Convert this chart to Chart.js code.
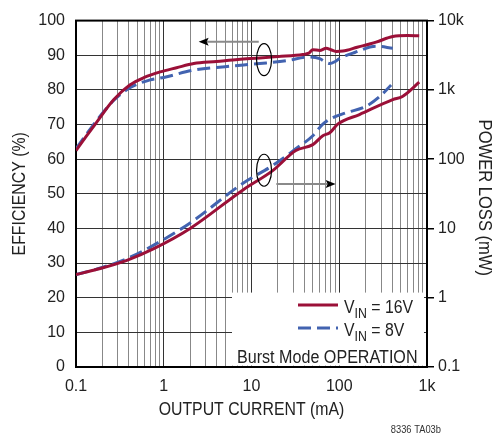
<!DOCTYPE html>
<html>
<head>
<meta charset="utf-8">
<script src="https://cdn.jsdelivr.net/npm/chart.js@4.4.1/dist/chart.umd.min.js"></script>
<style>
  html, body { margin: 0; padding: 0; background: #fff; }
  #wrap { width: 493px; height: 438px; }
</style>
</head>
<body>
<div id="wrap"><canvas id="effChart" width="493" height="438"></canvas></div>
<script>
// Efficiency (%) vs output current (mA)
const eff16Current = [0.1, 0.13, 0.17, 0.27, 0.41, 0.6, 0.91, 1.4, 2.2, 4, 7, 12.4, 20, 38.5, 45, 50, 60, 71, 80, 92, 110, 160, 263, 407, 600, 815];
const eff16Value   = [62.5, 66.5, 70.5, 77.2, 81.4, 83.6, 85.2, 86.4, 87.6, 88.2, 88.8, 89.2, 89.6, 90.2, 90.6, 91.6, 91.4, 92, 91.6, 91.1, 91.2, 92.3, 93.8, 95.4, 95.7, 95.6];
const eff8Current  = [0.1, 0.13, 0.17, 0.27, 0.41, 0.7, 1.0, 2.2, 5, 12.4, 25, 46, 60, 70, 78, 90, 100, 150, 263, 407];
const eff8Value    = [63, 67, 71, 77, 80.6, 82.9, 83.6, 85.7, 86.7, 87.6, 88.4, 89.5, 89, 88, 87.6, 88.2, 89, 90.8, 92.6, 92];

// Power loss (mW) vs output current (mA)
const loss16Current = [0.1, 0.174, 0.38, 0.76, 2.0, 8.0, 17.6, 32, 50, 65, 78, 96, 170, 407, 525, 815];
const loss16Value   = [2.16, 2.57, 3.47, 5.07, 10, 36, 69, 133, 162, 218, 240, 320, 441, 724, 804, 1290];
const loss8Current  = [0.1, 0.174, 0.38, 0.76, 2.0, 8.0, 17.6, 32, 50, 65, 85, 120, 204, 290, 390];
const loss8Value    = [2.16, 2.6, 3.67, 5.7, 12, 45, 81.6, 141, 218, 320, 398, 468, 582, 804, 1175];

const xTickValues = [0.1, 1, 10, 100, 1000];
const xTickLabels = ['0.1', '1', '10', '100', '1k'];
const lossTickValues = [0.1, 1, 10, 100, 1000, 10000];
const lossTickLabels = ['0.1', '1', '10', '100', '1k', '10k'];
const vinLabels = ['16V', '8V'];
const modeNote = 'Burst Mode OPERATION';
const figureTag = '8336 TA03b';
const xTitle = 'OUTPUT CURRENT (mA)';
const effTitle = 'EFFICIENCY (%)';
const lossTitle = 'POWER LOSS (mW)';

const RED = '#9b1038';
const BLUE = '#4263b0';
const TEXT = '#222';
const FONT = "'Liberation Sans', Arial, sans-serif";
const SQUEEZE = 0.88; // condensed look for titles and legend text

const pts = (xs, ys) => xs.map((x, i) => ({ x: x, y: ys[i] }));
const isDecade = v => Math.abs(Math.log10(v) - Math.round(Math.log10(v))) < 1e-6;

// horizontally squeezed text, optionally rotated around its anchor
function narrowText(ctx, text, x, y, opts) {
    const o = Object.assign({ size: 18, align: 'left', base: 'alphabetic', rot: 0, k: SQUEEZE }, opts);
    ctx.save();
    ctx.translate(x, y);
    ctx.rotate(o.rot);
    ctx.scale(o.k, 1);
    ctx.font = o.size + 'px ' + FONT;
    ctx.textAlign = o.align;
    ctx.textBaseline = o.base;
    ctx.fillText(text, 0, 0);
    const w = ctx.measureText(text).width * o.k;
    ctx.restore();
    return w;
}

function drawVin(ctx, x, y, val) {
    let w = narrowText(ctx, 'V', x, y, { size: 18 });
    w += narrowText(ctx, 'IN', x + w, y + 5, { size: 14 });
    narrowText(ctx, ' = ' + val, x + w, y, { size: 18 });
}

function arrow(ctx, x0, x1, y) {
    const dir = Math.sign(x1 - x0);
    ctx.strokeStyle = '#8a8a8a';
    ctx.lineWidth = 2;
    ctx.beginPath();
    ctx.moveTo(x0, y);
    ctx.lineTo(x1 - dir * 8, y);
    ctx.stroke();
    ctx.fillStyle = '#000';
    ctx.beginPath();
    ctx.moveTo(x1, y);
    ctx.lineTo(x1 - dir * 10, y - 4);
    ctx.lineTo(x1 - dir * 8, y);
    ctx.lineTo(x1 - dir * 10, y + 4);
    ctx.closePath();
    ctx.fill();
}

const overlay = {
    id: 'overlay',
    beforeDatasetsDraw(chart) {
        const { ctx, chartArea: a } = chart;
        ctx.save();
        // white panel for the legend, covering the grid
        ctx.fillStyle = '#fff';
        ctx.fillRect(a.left + 156, a.top + 272, a.right - 3 - (a.left + 156), 73);
        // plot frame
        ctx.strokeStyle = '#000';
        ctx.lineWidth = 2;
        ctx.strokeRect(a.left, a.top, a.right - a.left, a.bottom - a.top);
        ctx.restore();
    },
    afterDatasetsDraw(chart) {
        const { ctx, chartArea: a, scales } = chart;
        const x = scales.x, y = scales.y;
        const midY = (a.top + a.bottom) / 2;
        ctx.save();
        ctx.fillStyle = TEXT;

        // axis titles
        narrowText(ctx, xTitle, (a.left + a.right) / 2, a.bottom + 43, { align: 'center', base: 'middle' });
        narrowText(ctx, effTitle, 20, midY, { align: 'center', base: 'middle', rot: -Math.PI / 2 });
        narrowText(ctx, lossTitle, 484, midY + 4, { align: 'center', base: 'middle', rot: Math.PI / 2, k: 0.92 });

        // legend rows
        const rows = [a.top + 284.5, a.top + 307.5];
        const colors = [RED, BLUE];
        rows.forEach((ry, i) => {
            ctx.strokeStyle = colors[i];
            ctx.lineWidth = 3;
            ctx.setLineDash(i === 1 ? [13, 6] : []);
            ctx.beginPath();
            ctx.moveTo(a.left + 222, ry);
            ctx.lineTo(a.left + 262, ry);
            ctx.stroke();
            ctx.setLineDash([]);
            drawVin(ctx, a.left + 268, ry + 7.5, vinLabels[i]);
        });
        narrowText(ctx, modeNote, a.left + 161, a.top + 342, { k: 0.895 });

        // ellipses grouping each pair of curves
        ctx.strokeStyle = '#000';
        ctx.lineWidth = 1.2;
        [88.75, 56.8].forEach(v => {
            ctx.beginPath();
            ctx.ellipse(x.getPixelForValue(13.9), y.getPixelForValue(v), 7.5, 16, 0, 0, Math.PI * 2);
            ctx.stroke();
        });

        // arrows pointing to the matching axis
        arrow(ctx, x.getPixelForValue(12.1), x.getPixelForValue(2.5), y.getPixelForValue(93.9));
        arrow(ctx, x.getPixelForValue(19.2), x.getPixelForValue(91), y.getPixelForValue(52.8));

        // figure tag
        ctx.fillStyle = '#333';
        narrowText(ctx, figureTag, 441, 433, { size: 11, align: 'right', k: 0.85 });
        ctx.restore();
    }
};

const lineStyle = (color, dashed) => ({
    borderColor: color,
    backgroundColor: color,
    borderWidth: 3,
    borderDash: dashed ? [13, 6] : [],
    pointRadius: 0,
    cubicInterpolationMode: 'monotone',
    fill: false,
});

new Chart(document.getElementById('effChart'), {
    type: 'line',
    data: {
        datasets: [
            { label: 'VIN = 16V', data: pts(eff16Current, eff16Value), yAxisID: 'y', ...lineStyle(RED, false) },
            { label: 'VIN = 8V', data: pts(eff8Current, eff8Value), yAxisID: 'y', ...lineStyle(BLUE, true) },
            { label: 'VIN = 16V loss', data: pts(loss16Current, loss16Value), yAxisID: 'y2', ...lineStyle(RED, false) },
            { label: 'VIN = 8V loss', data: pts(loss8Current, loss8Value), yAxisID: 'y2', ...lineStyle(BLUE, true) },
        ]
    },
    options: {
        responsive: false,
        animation: false,
        devicePixelRatio: 1,
        layout: { padding: { top: 15, left: 0, right: 0, bottom: 0 } },
        plugins: { legend: { display: false }, tooltip: { enabled: false } },
        scales: {
            x: {
                type: 'logarithmic',
                min: 0.1,
                max: 1000,
                afterFit: s => { s.height = 71; },
                afterBuildTicks: s => {
                    const t = [];
                    for (let e = -1; e <= 2; e++)
                        for (let m = 1; m <= 9; m++) t.push({ value: m * Math.pow(10, e) });
                    t.push({ value: 1000 });
                    s.ticks = t;
                },
                grid: {
                    drawTicks: false,
                    lineWidth: 1,
                    color: c => isDecade(c.tick.value) ? '#333' : '#888',
                },
                border: { display: false },
                ticks: {
                    autoSkip: false,
                    maxRotation: 0,
                    padding: 10,
                    color: TEXT,
                    font: { family: FONT, size: 16 },
                    callback: v => {
                        const i = xTickValues.findIndex(t => Math.abs(Math.log10(t) - Math.log10(v)) < 1e-6);
                        return i >= 0 ? xTickLabels[i] : '';
                    }
                }
            },
            y: {
                type: 'linear',
                position: 'left',
                min: 0,
                max: 100,
                afterFit: s => { s.width = 76; },
                grid: { drawTicks: false, color: '#333', lineWidth: 1 },
                border: { display: false },
                ticks: {
                    stepSize: 10,
                    padding: 11,
                    color: TEXT,
                    font: { family: FONT, size: 16 }
                }
            },
            y2: {
                type: 'logarithmic',
                position: 'right',
                min: 0.1,
                max: 10000,
                afterFit: s => { s.width = 66; },
                afterBuildTicks: s => { s.ticks = lossTickValues.map(v => ({ value: v })); },
                grid: { drawOnChartArea: false, drawTicks: true, tickLength: 7, color: '#000', lineWidth: 1.5 },
                border: { display: false },
                ticks: {
                    autoSkip: false,
                    padding: 4,
                    color: TEXT,
                    font: { family: FONT, size: 16 },
                    callback: v => {
                        const i = lossTickValues.findIndex(t => Math.abs(Math.log10(t) - Math.log10(v)) < 1e-6);
                        return i >= 0 ? lossTickLabels[i] : '';
                    }
                }
            }
        }
    },
    plugins: [overlay]
});
</script>
</body>
</html>
